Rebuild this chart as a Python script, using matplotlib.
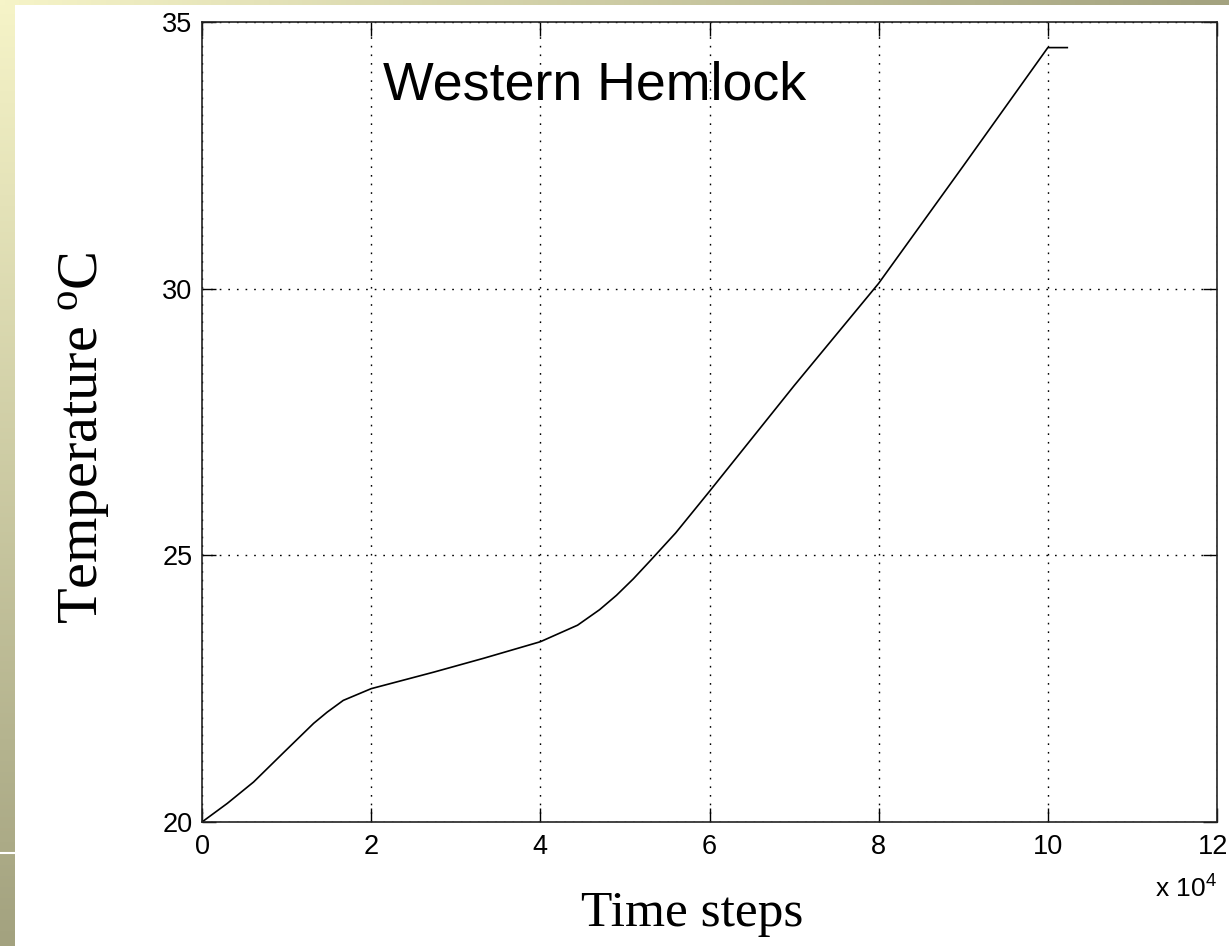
import numpy as np
import matplotlib.pyplot as plt
import matplotlib.transforms as mtransforms
from matplotlib.colors import LinearSegmentedColormap

# time steps (x 10^4) and temperature readings
steps = [0, 0.3, 0.61, 0.97, 1.32, 1.48, 1.67, 2.0, 2.74, 3.33, 4.0, 4.44,
         4.7, 4.9, 5.1, 5.3, 5.6, 6.0, 7.0, 8.0, 9.0, 10.0, 10.23]
temps = [20, 20.35, 20.75, 21.31, 21.85, 22.06, 22.28, 22.5, 22.81, 23.07,
         23.38, 23.69, 23.98, 24.25, 24.56, 24.9, 25.42, 26.2, 28.18, 30.1,
         32.3, 34.52, 34.52]
xticks = [0, 2, 4, 6, 8, 10, 12]
yticks = [20, 25, 30, 35]

sans = "Liberation Sans"
serif = "Liberation Serif"

fig = plt.figure(figsize=(12.29, 9.46), dpi=100)
W, H = 1229, 946

# slide border strips
band = LinearSegmentedColormap.from_list("band", ["#f6f4c8", "#a3a27f"])
left = fig.add_axes([0, 0, 15 / W, 1])
left.imshow(np.linspace(0, 1, 256).reshape(-1, 1), cmap=band, aspect="auto",
            extent=[0, 1, 1, 0])
left.axhline(853 / H, color="white", lw=1.5)
left.set_axis_off()
top = fig.add_axes([0, 1 - 5 / H, 1, 5 / H])
top.imshow(np.linspace(0, 1, 256).reshape(1, -1), cmap=band, aspect="auto")
top.set_axis_off()

ax = fig.add_axes([202 / W, 1 - 822 / H, 1015 / W, 800 / H])
ax.plot(steps, temps, color="black", lw=1.2)

ax.set_xlim(0, 12)
ax.set_ylim(20, 35)
ax.set_xticks(xticks)
ax.set_yticks(yticks)
ax.grid(True, color="black", lw=1, linestyle=(0, (1.2, 5)))
ax.tick_params(direction="in", top=True, right=True, length=10, width=1,
               labelsize=19.5)
ax.tick_params(axis="x", pad=9)
ax.tick_params(axis="y", pad=7)
for lab in ax.get_xticklabels() + ax.get_yticklabels():
    lab.set_family(sans)
for sp in ax.spines.values():
    sp.set_linewidth(1.2)
    sp.set_color("#222222")

# nudge the last x label so it stays inside the figure
last = ax.get_xticklabels()[-1]
last.set_transform(last.get_transform() +
                   mtransforms.ScaledTranslation(-4 / 100, 0, fig.dpi_scale_trans))

ax.text(0.178, 0.9025, "Western Hemlock", transform=ax.transAxes,
        family=sans, fontsize=38.7, va="baseline", ha="left")

ax.set_xlabel("Time steps", family=serif, fontsize=37, va="top")
ax.xaxis.set_label_coords(0.483, -0.085)
ax.set_ylabel(r"Temperature $\mathregular{^o}$C", family=serif, fontsize=42)
ax.yaxis.set_label_coords(-0.090, 0.48)

ax.text(1.0, -0.095, r"x 10$\mathregular{^4}$", transform=ax.transAxes,
        family=sans, fontsize=19, ha="right", va="baseline")

fig.savefig("out.png", dpi=100)
